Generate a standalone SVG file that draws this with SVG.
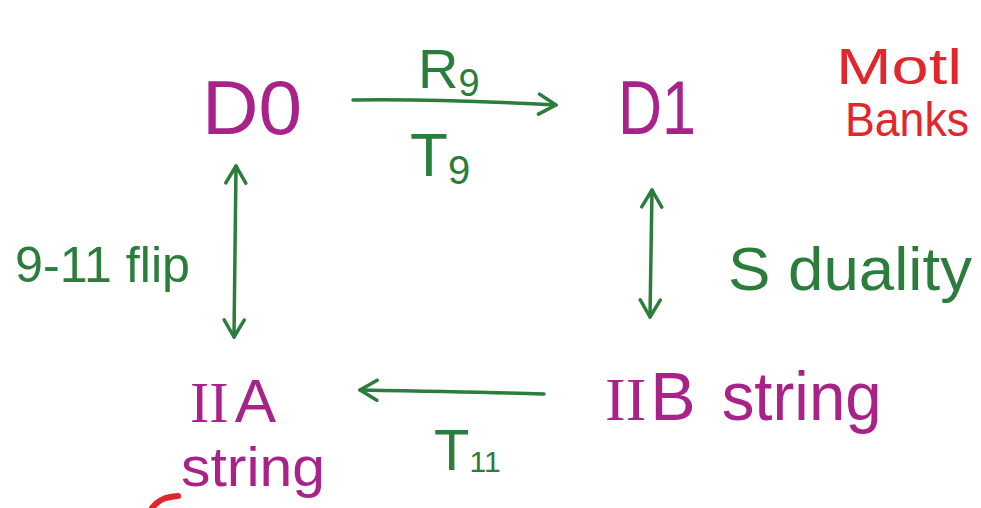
<svg xmlns="http://www.w3.org/2000/svg" width="981" height="508" viewBox="0 0 981 508">
<defs>
<marker id="ah" viewBox="0 0 24 24" refX="21" refY="12" markerWidth="24" markerHeight="24" markerUnits="userSpaceOnUse" orient="auto-start-reverse">
<path d="M4,2 L21,12 L4,22" fill="none" stroke="#2b7d3c" stroke-width="3.5" stroke-linecap="round" stroke-linejoin="round"/>
</marker>
<style>
.node{fill:#a8228a;font-family:"Liberation Sans",Arial,sans-serif}
.lab{fill:#2b7d3c;font-family:"Liberation Sans",Arial,sans-serif}
.red{fill:#e3262b;font-family:"Liberation Sans",Arial,sans-serif}
.conn{stroke:#2b7d3c;stroke-width:3.5;fill:none;stroke-linecap:round}
.rn{font-family:"Liberation Serif","Times New Roman",serif}
</style>
</defs>
<rect width="981" height="508" fill="#ffffff"/>
<g id="connectors">
<path class="conn" d="M353,100 C420,99 480,101 556,105" marker-end="url(#ah)"/>
<path class="conn" d="M236,166 L234,337" marker-start="url(#ah)" marker-end="url(#ah)"/>
<path class="conn" d="M652,190 L650,317" marker-start="url(#ah)" marker-end="url(#ah)"/>
<path class="conn" d="M544,394 C480,392 420,391 360,390" marker-end="url(#ah)"/>
</g>
<g id="D0"><text class="node" x="202" y="134" font-size="76" textLength="100" lengthAdjust="spacingAndGlyphs">D0</text></g>
<g id="D1"><text class="node" x="618" y="134" font-size="76" textLength="78" lengthAdjust="spacingAndGlyphs">D1</text></g>
<g id="IIA"><text class="node" x="190" y="422" font-size="62"><tspan class="rn" font-size="58">II</tspan><tspan dx="6">A</tspan></text>
<text class="node" x="181" y="486" font-size="56" textLength="144" lengthAdjust="spacingAndGlyphs">string</text></g>
<g id="IIB"><text class="node" x="605" y="420" font-size="68"><tspan class="rn" font-size="62">II</tspan><tspan dx="4">B</tspan><tspan dx="26" textLength="160" lengthAdjust="spacingAndGlyphs">string</tspan></text></g>
<g id="labels">
<text class="lab" x="418" y="88" font-size="56">R<tspan font-size="38" dy="8">9</tspan></text>
<text class="lab" x="410" y="176" font-size="62">T<tspan font-size="40" dy="8">9</tspan></text>
<text class="lab" x="434" y="470" font-size="58">T<tspan font-size="30" dy="2">11</tspan></text>
<text class="lab" x="15" y="282" font-size="50" textLength="175" lengthAdjust="spacingAndGlyphs">9-11 flip</text>
<text class="lab" x="728" y="290" font-size="62" textLength="244" lengthAdjust="spacingAndGlyphs">S duality</text>
</g>
<g id="note">
<text class="red" x="836" y="84" font-size="50" textLength="126" lengthAdjust="spacingAndGlyphs">Motl</text>
<text class="red" x="845" y="136" font-size="48" textLength="124" lengthAdjust="spacingAndGlyphs">Banks</text>
<path d="M152,508 C158,500 165,497 178,496" stroke="#e3262b" stroke-width="6" fill="none" stroke-linecap="round"/>
</g>
</svg>
